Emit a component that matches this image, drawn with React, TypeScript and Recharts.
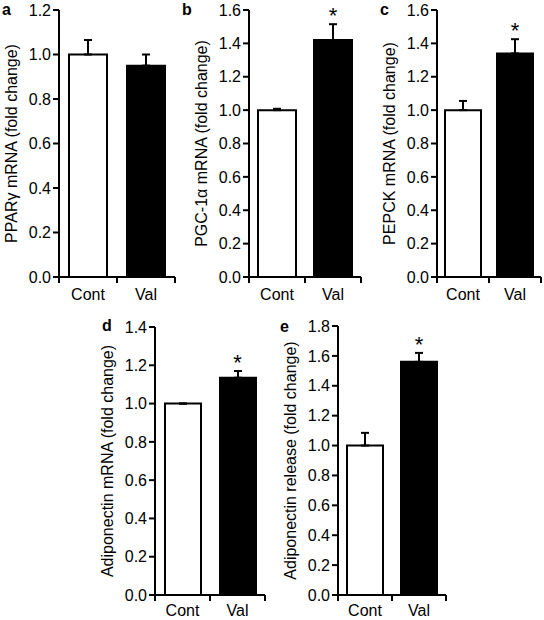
import { ComposedChart, Bar, ErrorBar, Cell, XAxis, YAxis, Scatter } from 'recharts'

const categories = ['Cont', 'Val']
const barFills = ['#ffffff', '#000000']

// a
const pparMean = [1.0, 0.95]
const pparErr = [0.065, 0.05]
const pparSig = [false, false]
const pparTicks = [0, 0.2, 0.4, 0.6, 0.8, 1.0, 1.2]

// b
const pgcMean = [1.0, 1.42]
const pgcErr = [0.008, 0.095]
const pgcSig = [false, true]
const pgcTicks = [0, 0.2, 0.4, 0.6, 0.8, 1.0, 1.2, 1.4, 1.6]

// c
const pepckMean = [1.0, 1.34]
const pepckErr = [0.055, 0.085]
const pepckSig = [false, true]
const pepckTicks = [0, 0.2, 0.4, 0.6, 0.8, 1.0, 1.2, 1.4, 1.6]

// d
const adipoMean = [1.0, 1.135]
const adipoErr = [0, 0.035]
const adipoSig = [false, true]
const adipoTicks = [0, 0.2, 0.4, 0.6, 0.8, 1.0, 1.2, 1.4]

// e
const releaseMean = [1.0, 1.56]
const releaseErr = [0.085, 0.06]
const releaseSig = [false, true]
const releaseTicks = [0, 0.2, 0.4, 0.6, 0.8, 1.0, 1.2, 1.4, 1.6, 1.8]

const FONT = '"Liberation Sans", Arial, sans-serif'

const buildRows = (mean: number[], err: number[], sig: boolean[]) =>
  categories.map((name, i) => ({
    name,
    mean: mean[i],
    range: [0, err[i]],
    star: sig[i] ? mean[i] + err[i] : null,
  }))

// asterisk sits ~14px above the top of the error bar
const renderStar = (props: any) => {
  const { cx, cy, payload } = props
  if (payload == null || payload.star == null || cy == null) return <g />
  return (
    <text x={cx} y={cy - 1} textAnchor="middle" fontSize={22} fontFamily={FONT} fill="#000">
      *
    </text>
  )
}

// category label plus the little ticks on the group boundaries
const catTick = (gap: number) => (props: any) => {
  const { x, y, payload } = props
  const half = payload?.offset ?? 0
  return (
    <g>
      <line x1={x - half} y1={y} x2={x - half} y2={y + 6} stroke="#000" strokeWidth={2} />
      <line x1={x + half} y1={y} x2={x + half} y2={y + 6} stroke="#000" strokeWidth={2} />
      <text x={x} y={y + gap} dy="0.71em" textAnchor="middle" fontSize={16} fontFamily={FONT} fill="#000">
        {payload.value}
      </text>
    </g>
  )
}

const yLabel = (text: string) => (props: any) => {
  const vb = props.viewBox
  const x = vb.x + vb.width - 48
  const y = vb.y + vb.height / 2
  return (
    <text
      x={x}
      y={y}
      transform={`rotate(-90, ${x}, ${y})`}
      textAnchor="middle"
      dominantBaseline="central"
      fontSize={16}
      fontFamily={FONT}
      fill="#000"
    >
      {text}
    </text>
  )
}

interface PanelProps {
  mean: number[]
  err: number[]
  sig: boolean[]
  ticks: number[]
  label: string
  left: number
  top: number
  axisWidth: number
  plotWidth: number
  marginTop: number
  plotHeight: number
  barSize: number
  labelGap: number
}

function Panel(p: PanelProps) {
  const data = buildRows(p.mean, p.err, p.sig)
  const height = 310
  const axisHeight = 30
  return (
    <div style={{ position: 'absolute', left: p.left, top: p.top }}>
      <ComposedChart
        width={p.axisWidth + p.plotWidth + 4}
        height={height}
        data={data}
        margin={{
          top: p.marginTop,
          right: 4,
          bottom: height - p.marginTop - p.plotHeight - axisHeight,
          left: 0,
        }}
      >
        <XAxis
          dataKey="name"
          height={axisHeight}
          axisLine={{ stroke: '#000', strokeWidth: 2 }}
          tickLine={false}
          tickSize={0}
          tickMargin={0}
          tick={catTick(p.labelGap)}
          interval={0}
        />
        <YAxis
          width={p.axisWidth}
          type="number"
          domain={[0, p.ticks[p.ticks.length - 1]]}
          ticks={p.ticks}
          interval={0}
          tickFormatter={(v: number) => v.toFixed(1)}
          tickSize={6}
          axisLine={{ stroke: '#000', strokeWidth: 2 }}
          tickLine={{ stroke: '#000', strokeWidth: 2 }}
          tick={{ fill: '#000', fontSize: 16, fontFamily: FONT }}
          label={yLabel(p.label)}
        />
        <Bar dataKey="mean" barSize={p.barSize} stroke="#000" strokeWidth={2} isAnimationActive={false}>
          {data.map((d, i) => (
            <Cell key={d.name} fill={barFills[i]} />
          ))}
          <ErrorBar dataKey="range" width={4} stroke="#000" strokeWidth={2} direction="y" />
        </Bar>
        <Scatter dataKey="star" shape={renderStar} isAnimationActive={false} />
      </ComposedChart>
    </div>
  )
}

const letters = [
  { t: 'a', x: 2, y: 15 },
  { t: 'b', x: 182, y: 15 },
  { t: 'c', x: 380, y: 15 },
  { t: 'd', x: 102, y: 331 },
  { t: 'e', x: 280, y: 332 },
]

export default function App() {
  return (
    <div
      style={{
        position: 'absolute',
        left: 0,
        top: 0,
        width: 544,
        height: 620,
        background: '#fff',
        overflow: 'hidden',
        fontFamily: FONT,
      }}
    >
      <Panel mean={pparMean} err={pparErr} sig={pparSig} ticks={pparTicks}
        label="PPARγ mRNA  (fold change)" left={0} top={0} axisWidth={59} plotWidth={116}
        marginTop={10} plotHeight={267} barSize={38} labelGap={12} />
      <Panel mean={pgcMean} err={pgcErr} sig={pgcSig} ticks={pgcTicks}
        label="PGC-1α mRNA  (fold change)" left={180} top={0} axisWidth={69} plotWidth={112}
        marginTop={10} plotHeight={267} barSize={38} labelGap={12} />
      <Panel mean={pepckMean} err={pepckErr} sig={pepckSig} ticks={pepckTicks}
        label="PEPCK mRNA  (fold change)" left={365} top={0} axisWidth={72} plotWidth={104}
        marginTop={10} plotHeight={267} barSize={36} labelGap={12} />
      <Panel mean={adipoMean} err={adipoErr} sig={adipoSig} ticks={adipoTicks}
        label="Adiponectin mRNA (fold change)" left={80} top={310} axisWidth={75} plotWidth={110}
        marginTop={17} plotHeight={268} barSize={36} labelGap={10} />
      <Panel mean={releaseMean} err={releaseErr} sig={releaseSig} ticks={releaseTicks}
        label="Adiponectin release (fold change)" left={270} top={310} axisWidth={68} plotWidth={108}
        marginTop={16} plotHeight={269} barSize={36} labelGap={10} />
      <svg width={544} height={620} style={{ position: 'absolute', left: 0, top: 0, pointerEvents: 'none' }}>
        {letters.map((l) => (
          <text key={l.t} x={l.x} y={l.y} fontSize={16} fontWeight="bold" fontFamily={FONT} fill="#000">
            {l.t}
          </text>
        ))}
      </svg>
    </div>
  )
}
